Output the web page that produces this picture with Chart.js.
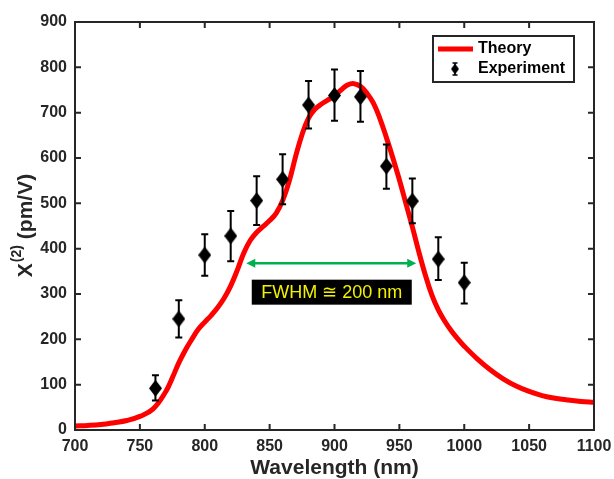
<!DOCTYPE html>
<html>
<head>
<meta charset="utf-8">
<script src="https://cdn.jsdelivr.net/npm/chart.js@4"></script>
<style>
  html, body { margin: 0; padding: 0; background: #fff; }
  canvas { display: block; }
</style>
</head>
<body>
<canvas id="chart" width="614" height="479"></canvas>
<script>
// theory curve
let theoryX = [700, 710, 720, 730, 740, 750, 760, 770, 775, 780, 785, 790, 795, 800, 805, 810, 815, 820, 825, 830, 835, 840, 845, 850,
    855, 860, 865, 870, 875, 880, 885, 890, 895, 900, 905, 910, 915, 920, 925, 930, 935, 940, 945, 950, 955, 960, 965, 970,
    975, 980, 985, 990, 995, 1000, 1010, 1020, 1030, 1040, 1050, 1060, 1070, 1080, 1090, 1100];
let theoryY = [9, 10, 12, 16, 21, 30, 46, 85, 115, 148, 176, 200, 222, 238, 253, 270, 291, 318, 352, 390, 418, 436, 449, 462,
    478, 506, 548, 603, 652, 688, 708, 719, 728, 737, 750, 761, 764, 758, 743, 721, 687, 645, 600, 552, 500, 448, 393, 342,
    298, 265, 240, 219, 201, 185, 157, 133, 113, 97, 85, 76, 70, 66, 63, 61];

// experiment points with error bar bounds
let expX = [762, 780, 800, 820, 840, 860, 880, 900, 920, 940, 960, 980, 1000];
let expY = [92, 245, 386, 428, 506, 553, 717, 738, 735, 582, 505, 377, 325];
let expLow = [65, 204, 340, 372, 452, 498, 665, 682, 680, 532, 456, 331, 279];
let expHigh = [121, 286, 432, 483, 560, 608, 770, 795, 792, 630, 555, 425, 369];

let xTicks = [700, 750, 800, 850, 900, 950, 1000, 1050, 1100];
let yTicks = [0, 100, 200, 300, 400, 500, 600, 700, 800, 900];

// FWHM marker (data units)
let fwhmFrom = 832, fwhmTo = 963, fwhmLevel = 368;
let fwhmLabel = "FWHM \u2245 200 nm";

const frameColor = "#262626";
const fontFamily = "'Liberation Sans', Arial, sans-serif";

function diamond(w, h) {
    let c = document.createElement("canvas");
    c.width = w; c.height = h;
    let g = c.getContext("2d");
    g.fillStyle = "#000";
    g.beginPath();
    g.moveTo(w / 2, 0); g.lineTo(w, h / 2); g.lineTo(w / 2, h); g.lineTo(0, h / 2);
    g.closePath(); g.fill();
    return c;
}
let bigDiamond = diamond(13, 17);

let theoryPoints = theoryX.map((x, i) => ({ x: x, y: theoryY[i] }));
let expPoints = expX.map((x, i) => ({ x: x, y: expY[i] }));

const errorBars = {
    id: "errorBars",
    beforeDatasetDraw(chart, args) {
        if (args.index !== 0) return;
        let { ctx, scales: { x, y } } = chart;
        ctx.save();
        ctx.strokeStyle = "#000";
        ctx.lineWidth = 2;
        expX.forEach((v, i) => {
            let px = x.getPixelForValue(v);
            let lo = y.getPixelForValue(expLow[i]);
            let hi = y.getPixelForValue(expHigh[i]);
            ctx.beginPath();
            ctx.moveTo(px, lo); ctx.lineTo(px, hi);
            ctx.moveTo(px - 3.5, lo); ctx.lineTo(px + 3.5, lo);
            ctx.moveTo(px - 3.5, hi); ctx.lineTo(px + 3.5, hi);
            ctx.stroke();
        });
        ctx.restore();
    }
};

const decorations = {
    id: "decorations",
    afterDraw(chart) {
        let { ctx, chartArea: a, scales: { x, y } } = chart;
        ctx.save();

        // frame + inward ticks
        ctx.strokeStyle = frameColor;
        ctx.lineWidth = 2;
        ctx.strokeRect(a.left, a.top, a.right - a.left, a.bottom - a.top);
        ctx.beginPath();
        xTicks.forEach(v => {
            let px = x.getPixelForValue(v);
            ctx.moveTo(px, a.bottom); ctx.lineTo(px, a.bottom - 6);
            ctx.moveTo(px, a.top); ctx.lineTo(px, a.top + 6);
        });
        yTicks.forEach(v => {
            let py = y.getPixelForValue(v);
            ctx.moveTo(a.left, py); ctx.lineTo(a.left + 6, py);
            ctx.moveTo(a.right, py); ctx.lineTo(a.right - 6, py);
        });
        ctx.stroke();

        // FWHM arrow
        let x1 = x.getPixelForValue(fwhmFrom), x2 = x.getPixelForValue(fwhmTo);
        let ay = y.getPixelForValue(fwhmLevel);
        ctx.strokeStyle = "#00b050";
        ctx.fillStyle = "#00b050";
        ctx.lineWidth = 2.5;
        ctx.beginPath();
        ctx.moveTo(x1 + 6, ay); ctx.lineTo(x2 - 6, ay);
        ctx.stroke();
        ctx.beginPath();
        ctx.moveTo(x1, ay); ctx.lineTo(x1 + 9, ay - 4.5); ctx.lineTo(x1 + 9, ay + 4.5); ctx.closePath();
        ctx.moveTo(x2, ay); ctx.lineTo(x2 - 9, ay - 4.5); ctx.lineTo(x2 - 9, ay + 4.5); ctx.closePath();
        ctx.fill();

        // FWHM label box
        let cx = (x1 + x2) / 2 + 0.5, cy = ay + 29;
        ctx.fillStyle = "#000";
        ctx.fillRect(cx - 80, cy - 12.5, 160, 25);
        ctx.fillStyle = "#f2f200";
        ctx.font = "18px " + fontFamily;
        ctx.textAlign = "center";
        ctx.textBaseline = "middle";
        ctx.fillText(fwhmLabel, cx, cy + 1);

        // legend
        let lx = a.right - 161, ly = a.top + 14;
        ctx.fillStyle = "#fff";
        ctx.fillRect(lx, ly, 141, 46);
        ctx.strokeStyle = frameColor;
        ctx.lineWidth = 2;
        ctx.strokeRect(lx, ly, 141, 46);
        ctx.strokeStyle = "#ff0000";
        ctx.lineWidth = 5;
        ctx.beginPath();
        ctx.moveTo(lx + 5, ly + 13); ctx.lineTo(lx + 40, ly + 13);
        ctx.stroke();
        ctx.strokeStyle = "#000";
        ctx.lineWidth = 1.5;
        let dx = lx + 22, dy = ly + 33;
        ctx.beginPath();
        ctx.moveTo(dx, dy - 6); ctx.lineTo(dx, dy + 6);
        ctx.moveTo(dx - 2.5, dy - 6); ctx.lineTo(dx + 2.5, dy - 6);
        ctx.moveTo(dx - 2.5, dy + 6); ctx.lineTo(dx + 2.5, dy + 6);
        ctx.stroke();
        ctx.drawImage(diamond(8, 11), dx - 4, dy - 5.5);
        ctx.fillStyle = "#000";
        ctx.font = "bold 16px " + fontFamily;
        ctx.textAlign = "left";
        ctx.textBaseline = "middle";
        ctx.fillText("Theory", lx + 45, ly + 13);
        ctx.fillText("Experiment", lx + 45, ly + 33);

        // y title with superscript
        ctx.translate(26, (a.top + a.bottom) / 2);
        ctx.rotate(-Math.PI / 2);
        ctx.fillStyle = frameColor;
        ctx.textBaseline = "middle";
        let big = "bold 21px " + fontFamily, small = "bold 14px " + fontFamily;
        ctx.font = big;
        let w1 = ctx.measureText("X").width;
        let w3 = ctx.measureText(" (pm/V)").width;
        ctx.font = small;
        let w2 = ctx.measureText("(2)").width;
        let sx = -(w1 + w2 + w3) / 2;
        ctx.font = big;
        ctx.fillText("X", sx, 0);
        ctx.font = small;
        ctx.fillText("(2)", sx + w1 + 1, -9);
        ctx.font = big;
        ctx.fillText(" (pm/V)", sx + w1 + w2 + 1, 0);
        ctx.restore();
    }
};

new Chart(document.getElementById("chart"), {
    type: "scatter",
    data: {
        datasets: [
            {
                label: "Experiment",
                data: expPoints,
                pointStyle: bigDiamond,
                pointRadius: 7,
                showLine: false
            },
            {
                label: "Theory",
                data: theoryPoints,
                showLine: true,
                borderColor: "#ff0000",
                borderWidth: 5,
                pointRadius: 0,
                tension: 0.4
            }
        ]
    },
    options: {
        responsive: false,
        animation: false,
        layout: { padding: { top: 22, right: 20, left: 0, bottom: 0 } },
        plugins: { legend: { display: false }, tooltip: { enabled: false } },
        scales: {
            x: {
                type: "linear", min: 700, max: 1100,
                afterBuildTicks: s => { s.ticks = xTicks.map(v => ({ value: v })); },
                afterFit: s => { s.height = 49; s.paddingLeft = 0; s.paddingRight = 0; },
                grid: { display: false, drawTicks: false },
                border: { display: false },
                ticks: {
                    color: frameColor, padding: 7, maxRotation: 0, callback: v => String(v),
                    font: { family: fontFamily, size: 16, weight: "bold" }
                },
                title: {
                    display: true, text: "Wavelength (nm)", color: frameColor, padding: { top: 0, bottom: 0 },
                    font: { family: fontFamily, size: 21, weight: "bold", lineHeight: 1 }
                }
            },
            y: {
                min: 0, max: 900,
                afterBuildTicks: s => { s.ticks = yTicks.map(v => ({ value: v })); },
                afterFit: s => { s.width = 75; s.paddingTop = 0; s.paddingBottom = 0; },
                grid: { display: false, drawTicks: false },
                border: { display: false },
                ticks: {
                    color: frameColor, padding: 8, callback: v => String(v),
                    font: { family: fontFamily, size: 16, weight: "bold" }
                }
            }
        }
    },
    plugins: [errorBars, decorations]
});
</script>
</body>
</html>
